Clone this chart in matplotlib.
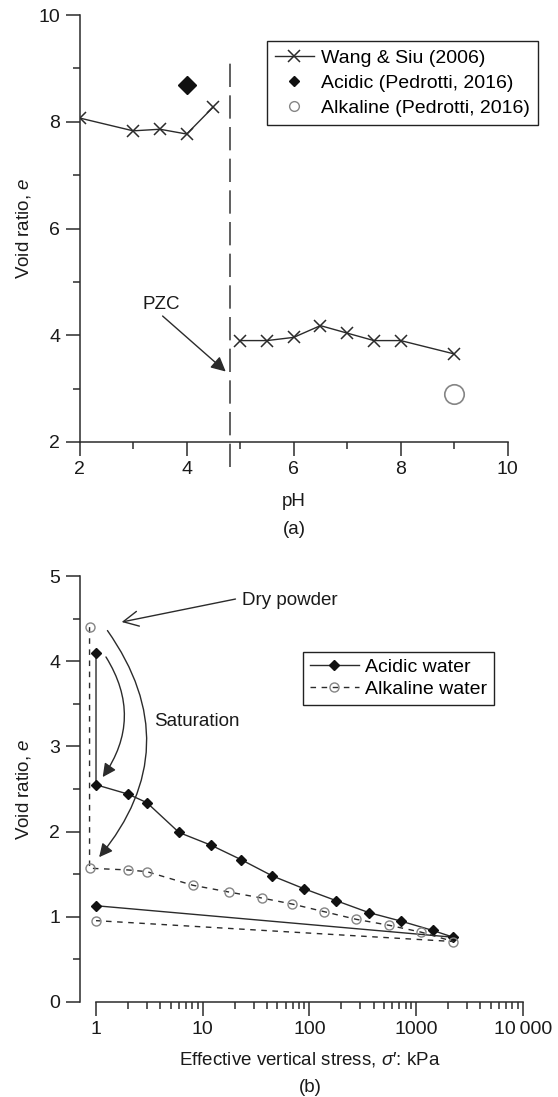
import numpy as np
import matplotlib.pyplot as plt
from matplotlib.lines import Line2D
from matplotlib.ticker import FixedLocator, MultipleLocator, NullFormatter

plt.rcParams['font.family'] = ['Liberation Sans', 'DejaVu Sans']
plt.rcParams['mathtext.fontset'] = 'custom'
plt.rcParams['mathtext.rm'] = 'Liberation Sans'
plt.rcParams['mathtext.it'] = 'Liberation Sans:italic'

# (a) void ratio against pH
wang_ph_low = [2, 3, 3.5, 4, 4.5]
wang_e_low = [8.07, 7.83, 7.86, 7.77, 8.28]
wang_ph_high = [5, 5.5, 6, 6.5, 7, 7.5, 8, 9]
wang_e_high = [3.90, 3.90, 3.96, 4.18, 4.04, 3.90, 3.90, 3.65]
acidic_ph = [4.0]
acidic_e = [8.69]
alkaline_ph = [9.0]
alkaline_e = [2.90]
pzc_ph = 4.81

# (b) compression curves
acid_stress = [1, 1, 2, 3, 6, 12, 23, 45, 89, 178, 360, 720, 1435, 2240, 1]
acid_e = [4.10, 2.55, 2.44, 2.34, 1.99, 1.84, 1.67, 1.48, 1.33, 1.19, 1.05, 0.95, 0.84, 0.76, 1.13]
alk_stress = [0.87, 0.87, 2, 3, 8.1, 17.8, 36, 69, 138, 276, 562, 1114, 2240, 1]
alk_e = [4.40, 1.57, 1.55, 1.53, 1.37, 1.29, 1.22, 1.15, 1.06, 0.97, 0.90, 0.82, 0.71, 0.955]

dark = '#2b2b2b'
grey = '#858585'

fig = plt.figure(figsize=(5.58, 10.97), dpi=100)
ax1 = fig.add_axes([0.1428, 0.5971, 0.767, 0.3892])
ax2 = fig.add_axes([0.1428, 0.0866, 0.7939, 0.3883])

for ax in (ax1, ax2):
    for s in ('top', 'right'):
        ax.spines[s].set_visible(False)
    for s in ('left', 'bottom'):
        ax.spines[s].set_color(dark)
        ax.spines[s].set_linewidth(1.1)
    ax.tick_params(which='major', length=10, width=1.1, pad=4, labelsize=14,
                   color=dark, labelcolor='#1a1a1a')
    ax.tick_params(which='minor', length=5.3, width=1.1, color=dark)

# ---- panel (a)
ax1.plot(wang_ph_low, wang_e_low, color=dark, lw=1.0, marker='x', ms=9, mew=1.1)
ax1.plot(wang_ph_high, wang_e_high, color=dark, lw=1.0, marker='x', ms=9, mew=1.1)
ax1.plot(acidic_ph, acidic_e, ls='none', marker='D', ms=9.5, color='#111111')
ax1.plot(alkaline_ph, alkaline_e, ls='none', marker='o', ms=14, mfc='none',
         mec=grey, mew=1.2)
ax1.axvline(pzc_ph, ymin=-0.059, ymax=0.8875, color='#444444', lw=1.2,
            ls=(0, (14, 5)), clip_on=False)

ax1.set_xlim(2, 10)
ax1.set_ylim(2, 10)
ax1.set_xticks([2, 4, 6, 8, 10])
ax1.set_yticks([2, 4, 6, 8, 10])
ax1.xaxis.set_minor_locator(MultipleLocator(1))
ax1.yaxis.set_minor_locator(MultipleLocator(1))

ax1.text(3.52, 4.58, 'PZC', fontsize=13.5, ha='center', va='center', color='#1a1a1a')
ax1.annotate('', xy=(4.73, 3.32), xytext=(3.55, 4.36),
             arrowprops=dict(arrowstyle='-|>', color=dark, lw=1.0,
                             mutation_scale=22, shrinkA=0, shrinkB=0))

ax1.set_xlabel('pH', fontsize=13.5, va='center', color='#1a1a1a')
ax1.xaxis.set_label_coords(0.5, -0.14)
ax1.set_ylabel('Void ratio, $e$', fontsize=13.5, va='center', color='#1a1a1a')
ax1.yaxis.set_label_coords(-0.131, 0.5)

h1 = [Line2D([], [], color=dark, lw=1.0, marker='x', ms=9, mew=1.1),
      Line2D([], [], ls='none', marker='D', ms=5, color='#111111'),
      Line2D([], [], ls='none', marker='o', ms=7, mfc='none', mec=grey)]
leg1 = ax1.legend(h1, ['Wang & Siu (2006)', 'Acidic (Pedrotti, 2016)',
                       'Alkaline (Pedrotti, 2016)'],
                  loc='upper left', bbox_to_anchor=(0.437, 0.939), borderaxespad=0,
                  fontsize=14, handlelength=2.0, handletextpad=0.35,
                  labelspacing=0.38, borderpad=0.42, fancybox=False,
                  edgecolor='#222222', framealpha=1)
leg1.get_frame().set_linewidth(1.0)

# ---- panel (b)
ax2.plot(acid_stress, acid_e, color=dark, lw=1.0, marker='D', ms=5,
         mfc='#111111', mec='#111111')
ax2.plot(alk_stress, alk_e, color=dark, lw=1.0, ls=(0, (4, 4)), marker='o',
         ms=6.5, mfc='none', mec=grey, mew=1.0)

ax2.set_xscale('log')
ax2.set_xlim(0.703, 10000)
ax2.set_ylim(0, 5)
ax2.spines['bottom'].set_bounds(1, 10000)
ax2.set_xticks([1, 10, 100, 1000, 10000])
ax2.set_xticklabels(['1', '10', '100', '1000', '10\u2009000'])
ax2.xaxis.set_minor_locator(FixedLocator(
    [k * 10.0 ** d for d in range(4) for k in range(2, 10)]))
ax2.xaxis.set_minor_formatter(NullFormatter())
ax2.set_yticks([0, 1, 2, 3, 4, 5])
ax2.yaxis.set_minor_locator(MultipleLocator(0.5))

ax2.text(23.6, 4.71, 'Dry powder', fontsize=13.5, ha='left', va='center', color='#1a1a1a')
ax2.annotate('', xy=(1.74, 4.46), xytext=(20.3, 4.73),
             arrowprops=dict(arrowstyle='->, head_length=0.6, head_width=0.3',
                             color=dark, lw=1.0, mutation_scale=18,
                             shrinkA=0, shrinkB=0))
ax2.text(3.52, 3.29, 'Saturation', fontsize=13.5, ha='left', va='center', color='#1a1a1a')
ax2.annotate('', xy=(1.155, 2.64), xytext=(1.24, 4.05),
             arrowprops=dict(arrowstyle='-|>', color=dark, lw=1.0,
                             mutation_scale=20, shrinkA=0, shrinkB=0,
                             connectionstyle='arc3,rad=-0.33'))
ax2.annotate('', xy=(1.07, 1.70), xytext=(1.28, 4.36),
             arrowprops=dict(arrowstyle='-|>', color=dark, lw=1.0,
                             mutation_scale=20, shrinkA=0, shrinkB=0,
                             connectionstyle='arc3,rad=-0.38'))

ax2.set_xlabel('Effective vertical stress, $\\sigma$\u2032: kPa', fontsize=13.5,
               va='center', color='#1a1a1a')
ax2.xaxis.set_label_coords(0.5185, -0.136)
ax2.set_ylabel('Void ratio, $e$', fontsize=13.5, va='center', color='#1a1a1a')
ax2.yaxis.set_label_coords(-0.126, 0.5)

h2 = [Line2D([], [], color=dark, lw=1.0, marker='D', ms=5, mfc='#111111', mec='#111111'),
      Line2D([], [], color=dark, lw=1.0, ls=(0, (4, 4)), marker='o', ms=6.5,
             mfc='none', mec=grey)]
leg2 = ax2.legend(h2, ['Acidic water', 'Alkaline water'], loc='upper left',
                  bbox_to_anchor=(0.5045, 0.822), borderaxespad=0, fontsize=14,
                  handlelength=2.5, handletextpad=0.35, labelspacing=0.2,
                  borderpad=0.35, fancybox=False, edgecolor='#222222', framealpha=1)
leg2.get_frame().set_linewidth(1.0)

fig.text(294 / 558, 1 - 529 / 1097, '(a)', fontsize=13.5, ha='center', va='center',
         color='#1a1a1a')
fig.text(310 / 558, 1 - 1087 / 1097, '(b)', fontsize=13.5, ha='center', va='center',
         color='#1a1a1a')

fig.savefig('out.png', dpi=100)
